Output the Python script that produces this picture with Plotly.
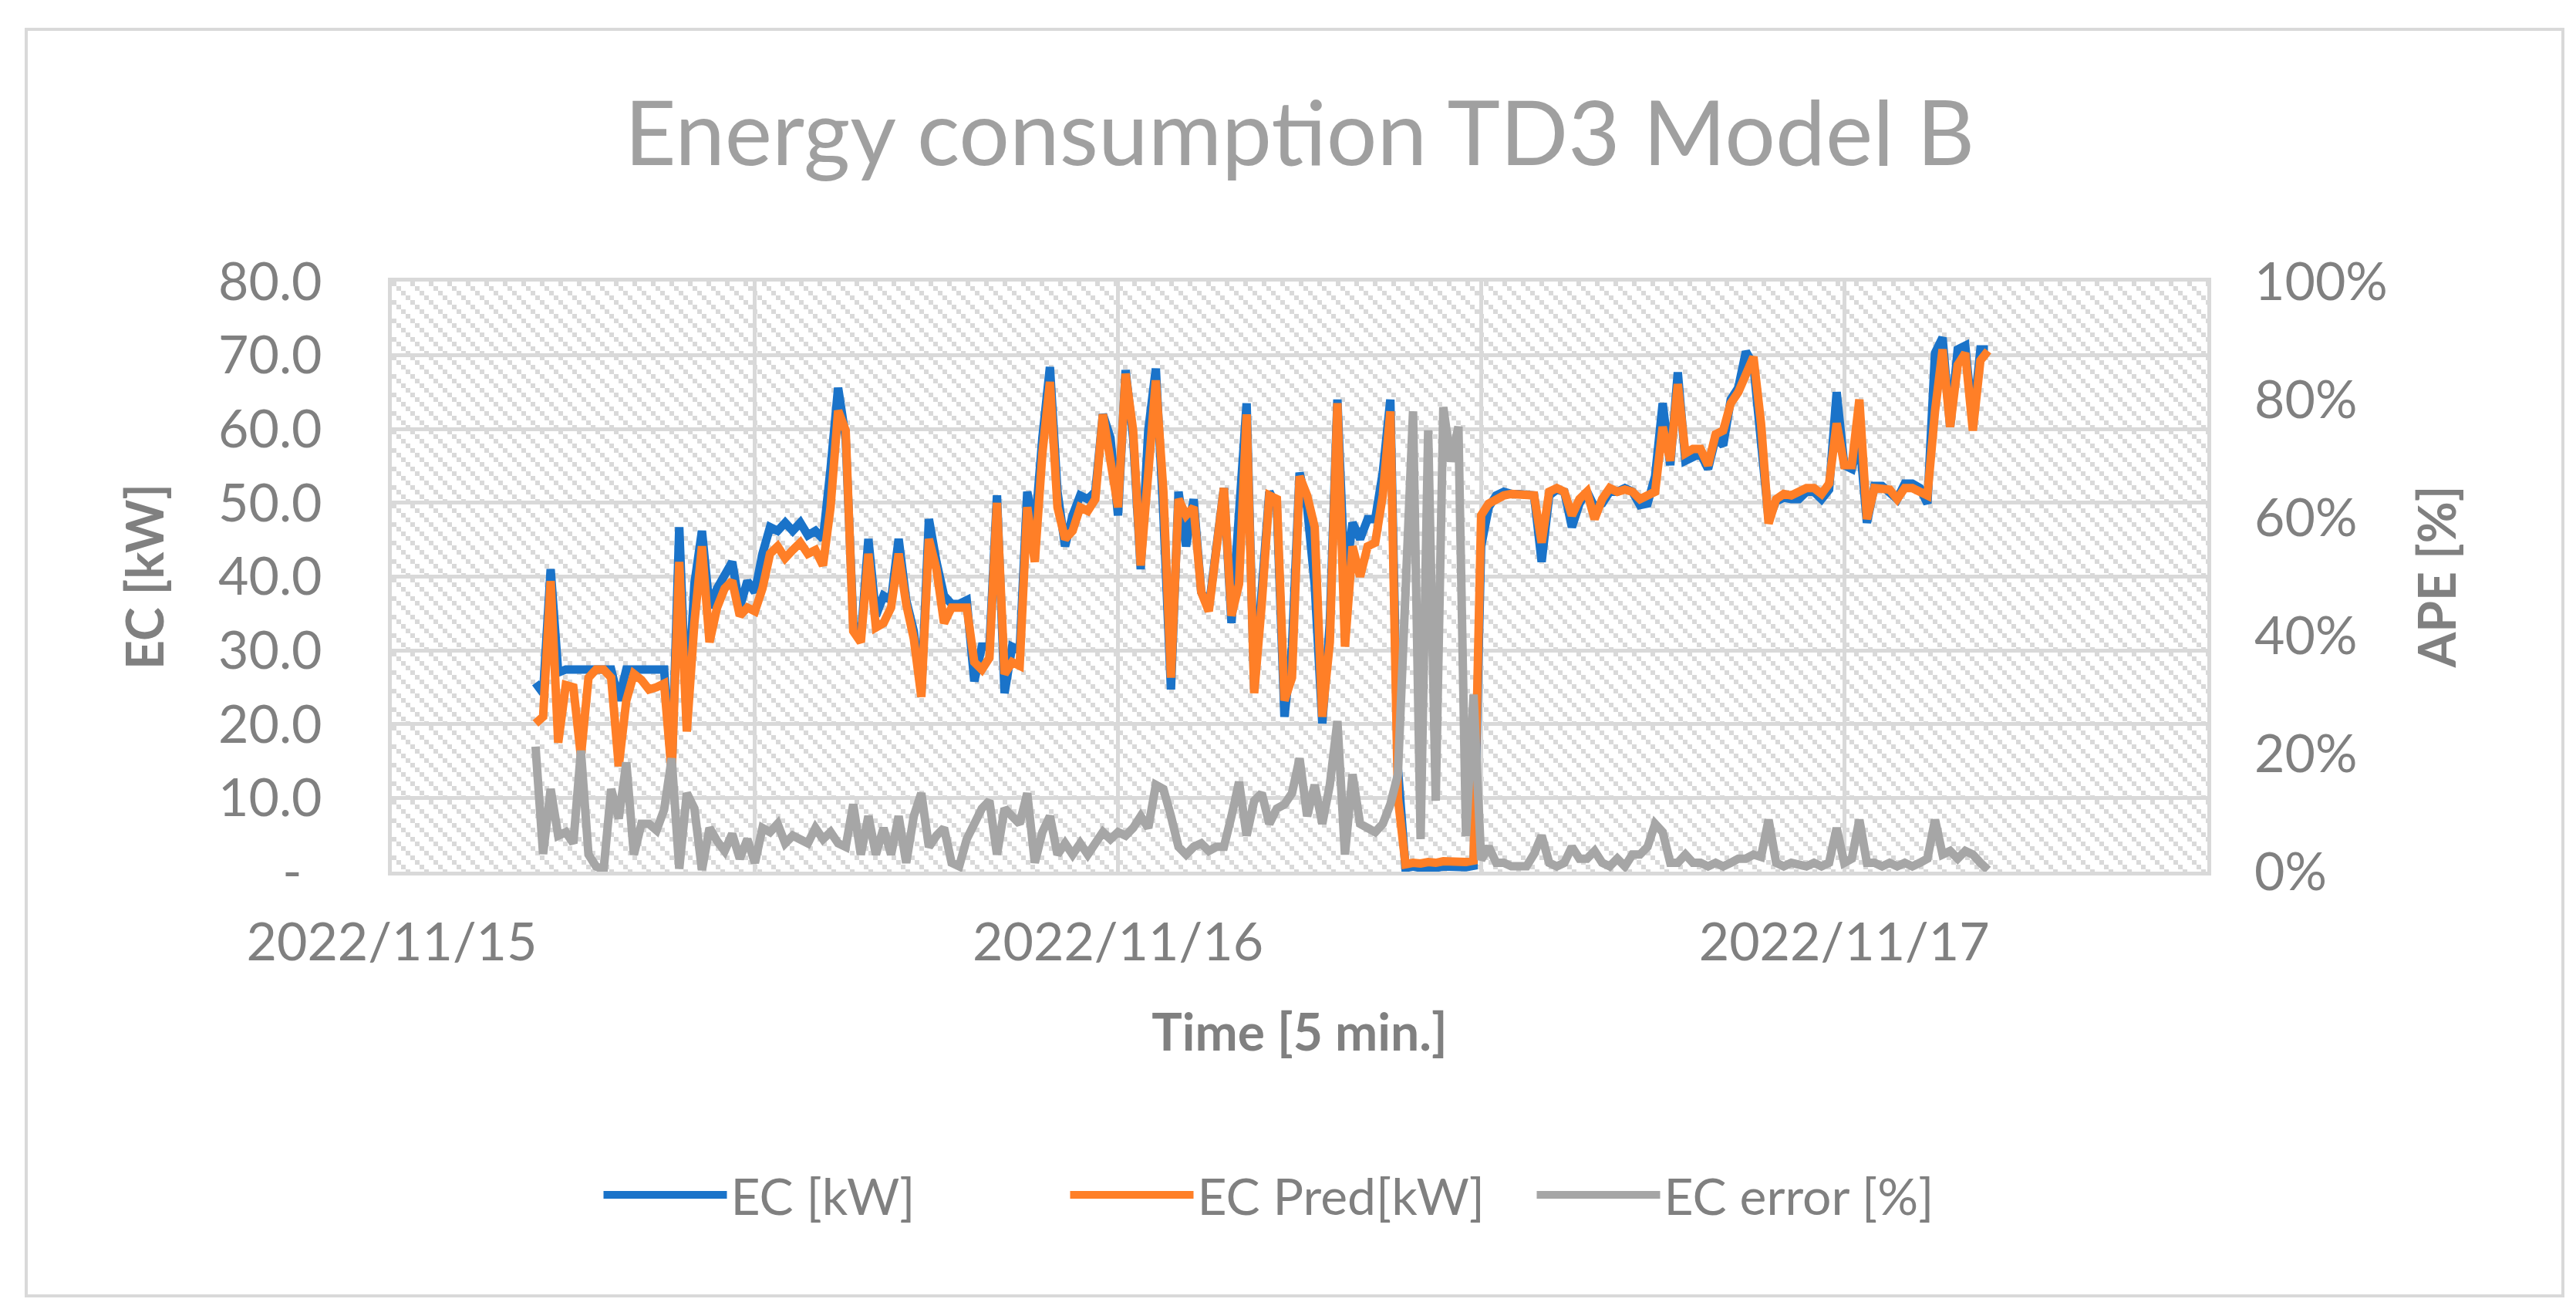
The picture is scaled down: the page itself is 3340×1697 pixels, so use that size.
import base64
import pandas as pd
import plotly.graph_objects as go

# time axis: 15 min steps (data runs ~04:45 on 11/15 to ~04:45 on 11/17)
start_time = "2022-11-15 04:45"
n_points = 193
times = pd.date_range(start_time, periods=n_points, freq="15min")

ec_kw = [
    25.6, 24.2, 41.0, 27.0, 27.4, 27.4, 27.4, 27.4, 27.4, 27.4,
    27.4, 23.2, 27.4, 27.4, 27.4, 27.4, 27.4, 27.4, 13.5, 46.7,
    20.1, 39.0, 46.2, 35.8, 38.4, 40.0, 42.0, 35.8, 39.4, 37.9,
    43.1, 46.7, 46.2, 47.3, 46.2, 47.3, 45.6, 46.2, 45.1, 54.6,
    65.6, 58.8, 33.7, 31.6, 45.1, 34.7, 37.4, 36.8, 45.1, 36.8,
    32.6, 24.2, 47.8, 42.0, 37.4, 36.3, 36.3, 36.8, 25.8, 30.5,
    30.5, 51.0, 24.2, 30.5, 30.0, 51.5, 46.2, 58.8, 68.4, 51.5,
    44.1, 48.3, 51.0, 50.5, 51.5, 62.0, 58.8, 48.3, 68.0, 58.8,
    41.0, 59.8, 68.2, 48.3, 24.7, 51.5, 44.1, 50.5, 37.9, 35.8,
    45.1, 52.0, 33.7, 49.4, 63.5, 24.7, 37.9, 51.5, 49.4, 21.0,
    30.5, 54.1, 49.4, 38.9, 20.1, 33.7, 64.0, 38.9, 47.3, 45.1,
    47.8, 47.8, 54.1, 64.0, 14.0, 0.5, 0.7, 0.5, 0.6, 0.5,
    0.7, 0.6, 0.7, 0.6, 0.8, 44.1, 49.4, 51.0, 51.5, 51.2,
    51.2, 51.2, 51.0, 42.0, 51.0, 51.8, 51.5, 46.7, 49.9, 51.5,
    49.4, 49.9, 51.5, 51.5, 52.0, 51.5, 49.7, 49.9, 53.6, 63.5,
    55.1, 67.7, 55.7, 56.2, 56.7, 54.6, 58.8, 57.8, 64.0, 65.6,
    70.5, 68.7, 58.8, 47.8, 50.2, 50.7, 50.5, 50.5, 51.5, 51.5,
    50.5, 51.8, 65.0, 55.1, 54.6, 58.8, 47.3, 52.3, 52.3, 51.5,
    50.5, 52.6, 52.6, 52.0, 49.9, 70.3, 72.4, 60.3, 70.8, 71.3,
    60.8, 70.8, 70.8,
]

ec_pred_kw = [
    20.1, 21.0, 39.4, 17.5, 25.3, 25.0, 15.6, 26.3, 27.4, 27.4,
    26.3, 14.3, 23.2, 26.8, 26.0, 24.7, 25.0, 25.5, 13.3, 42.0,
    19.0, 33.7, 44.1, 31.1, 35.8, 38.4, 39.4, 34.7, 35.8, 35.3,
    38.4, 43.1, 44.1, 42.5, 43.6, 44.6, 43.1, 43.6, 41.5, 49.4,
    62.5, 59.8, 32.6, 31.1, 43.1, 33.1, 33.7, 35.8, 43.1, 36.3,
    31.6, 23.7, 45.1, 41.0, 33.7, 35.8, 35.8, 35.8, 28.4, 27.4,
    29.0, 50.0, 26.8, 28.4, 27.9, 49.4, 42.0, 56.7, 66.4, 49.4,
    45.1, 46.2, 49.4, 48.9, 50.5, 62.0, 55.7, 49.4, 67.5, 59.8,
    41.5, 54.6, 66.6, 51.5, 26.3, 50.5, 48.3, 49.4, 37.9, 35.3,
    43.1, 52.0, 34.7, 39.0, 62.0, 24.2, 36.3, 51.0, 50.5, 23.2,
    26.3, 53.6, 51.0, 46.7, 21.0, 31.1, 63.5, 30.5, 44.1, 40.0,
    44.1, 44.6, 51.0, 62.4, 10.0, 1.0, 1.2, 1.1, 1.3, 1.2,
    1.4, 1.3, 1.4, 1.3, 1.5, 48.3, 49.9, 50.5, 51.0, 51.2,
    51.2, 51.2, 51.0, 44.6, 51.5, 52.0, 51.5, 48.3, 50.5, 51.5,
    47.8, 50.5, 52.0, 51.5, 51.8, 51.5, 50.5, 51.0, 51.5, 60.3,
    55.7, 66.1, 56.7, 57.3, 57.3, 55.1, 59.3, 59.8, 63.5, 65.0,
    67.5, 69.8, 60.8, 47.2, 50.5, 51.2, 51.0, 51.5, 52.0, 52.0,
    51.2, 52.6, 60.8, 55.1, 55.1, 64.0, 47.8, 52.0, 52.0, 51.8,
    50.5, 52.0, 52.0, 51.5, 51.0, 62.4, 70.8, 60.3, 68.7, 70.3,
    59.8, 69.3, 70.6,
]

ec_error_pct = [
    21.2, 3.0, 14.0, 6.1, 6.7, 4.8, 20.5, 2.9, 0.9, 0.3,
    14.0, 9.0, 18.5, 2.9, 8.1, 8.1, 7.0, 10.5, 19.2, 0.5,
    13.3, 10.7, 0.3, 7.4, 5.2, 3.5, 6.4, 2.2, 5.5, 1.5,
    7.4, 6.7, 8.1, 4.8, 6.1, 5.5, 4.8, 7.4, 5.5, 6.7,
    4.8, 4.2, 11.4, 2.9, 9.4, 2.9, 7.4, 2.9, 9.4, 1.5,
    9.4, 13.3, 4.2, 6.1, 7.4, 1.5, 0.9, 5.5, 8.1, 10.7,
    12.0, 2.9, 10.7, 9.4, 8.1, 13.3, 1.5, 6.7, 9.4, 2.9,
    4.8, 2.9, 4.8, 2.9, 4.8, 6.7, 5.5, 6.7, 6.1, 7.4,
    9.4, 7.4, 14.7, 14.0, 9.4, 4.2, 2.9, 4.2, 4.8, 3.5,
    4.2, 4.2, 9.4, 15.2, 6.1, 12.0, 13.3, 8.1, 10.7, 11.4,
    13.3, 19.2, 9.4, 14.7, 8.1, 14.7, 25.5, 2.9, 16.5, 8.1,
    7.4, 6.7, 8.1, 11.4, 16.5, 45.0, 78.0, 5.5, 74.8, 12.0,
    78.7, 69.5, 75.4, 6.0, 30.0, 2.0, 4.2, 1.5, 1.5, 0.9,
    0.9, 0.9, 3.0, 6.1, 1.5, 0.9, 1.5, 4.2, 2.2, 2.2,
    3.5, 1.5, 0.9, 2.2, 0.9, 2.9, 2.9, 4.2, 8.1, 6.7,
    1.5, 1.5, 2.9, 1.5, 1.5, 0.9, 1.5, 0.9, 1.5, 2.2,
    2.2, 2.9, 2.5, 8.8, 1.5, 0.9, 1.5, 1.2, 0.9, 1.5,
    0.9, 1.5, 7.4, 1.5, 2.2, 8.8, 1.5, 1.5, 0.9, 1.5,
    0.9, 1.5, 0.9, 1.5, 2.2, 8.8, 2.9, 3.5, 2.2, 3.5,
    2.9, 1.5, 0.3,
]

y_ticks = [0, 10, 20, 30, 40, 50, 60, 70, 80]
y_ticktext = ["-\u00a0\u2009", "10.0", "20.0", "30.0", "40.0",
              "50.0", "60.0", "70.0", "80.0"]

grey_text = "#808080"
grid = "#D9D9D9"
font = "Lato"

# plot area in pixels (matches the reference layout)
W, H = 3340, 1697
ml, mr, mt, mb = 500, 486, 357, 575
pw, ph = W - ml - mr, H - mt - mb

# diagonal hatch background for the plot area, as an svg image
hatch = (
    '<svg xmlns="http://www.w3.org/2000/svg" width="%d" height="%d">'
    '<defs><pattern id="h" width="24" height="24" patternUnits="userSpaceOnUse">'
    '<rect x="0" y="0" width="6" height="6" fill="#D9D9D9"/>'
    '<rect x="6" y="6" width="6" height="6" fill="#D9D9D9"/>'
    '<rect x="12" y="12" width="6" height="6" fill="#D9D9D9"/>'
    '<rect x="18" y="18" width="6" height="6" fill="#D9D9D9"/>'
    '</pattern></defs>'
    '<rect width="100%%" height="100%%" fill="white"/>'
    '<rect width="100%%" height="100%%" fill="url(#h)"/></svg>' % (pw, ph)
)
hatch_src = "data:image/svg+xml;base64," + base64.b64encode(hatch.encode()).decode()

lw = 11
fig = go.Figure()
fig.add_trace(go.Scatter(x=times, y=ec_kw, name="EC [kW]", mode="lines",
                         line=dict(color="#1A73C9", width=lw)))
fig.add_trace(go.Scatter(x=times, y=ec_pred_kw, name="EC Pred[kW]", mode="lines",
                         line=dict(color="#FF7F27", width=lw)))
fig.add_trace(go.Scatter(x=times, y=ec_error_pct, name="EC error [%]", mode="lines",
                         yaxis="y2", line=dict(color="#A6A6A6", width=lw)))

fig.update_layout(
    width=W, height=H,
    margin=dict(l=ml, r=mr, t=mt, b=mb),
    paper_bgcolor="white",
    plot_bgcolor="white",
    font=dict(family=font, color=grey_text, size=66),
    title=dict(text="Energy consumption TD3 Model B", x=0.5, xref="paper",
               xanchor="center", y=1 - 165 / H, yanchor="middle",
               font=dict(family=font, size=116, color="#A0A0A0")),
    xaxis=dict(
        type="date",
        range=["2022-11-15 00:00", "2022-11-17 12:00"],
        tick0="2022-11-15", dtick=86400000, tickformat="%Y/%m/%d",
        showgrid=True, gridcolor=grid, gridwidth=5,
        minor=dict(dtick=43200000, showgrid=True, gridcolor=grid, gridwidth=5),
        showline=True, linecolor=grid, linewidth=5, mirror=True,
        ticks="", ticklabelstandoff=28, zeroline=False,
        tickfont=dict(size=68, color=grey_text),
        title=dict(text="<b>Time [5 min.]</b>", standoff=60,
                   font=dict(size=66, color=grey_text)),
    ),
    yaxis=dict(
        range=[0, 80], tickvals=y_ticks, ticktext=y_ticktext,
        showgrid=True, gridcolor=grid, gridwidth=5,
        showline=True, linecolor=grid, linewidth=5, mirror=True,
        ticks="", ticklabelstandoff=72, zeroline=False,
        tickfont=dict(size=68, color=grey_text),
        title=dict(text="<b>EC [kW]</b>", standoff=50,
                   font=dict(size=66, color=grey_text)),
    ),
    yaxis2=dict(
        range=[0, 100], dtick=20, ticksuffix="%", overlaying="y", side="right",
        showgrid=False, zeroline=False, showline=False, ticks="",
        ticklabelstandoff=60,
        tickfont=dict(size=68, color=grey_text),
        title=dict(text="<b>APE [%]</b>", standoff=42,
                   font=dict(size=66, color=grey_text)),
    ),
    legend=dict(orientation="h", x=0.5, xanchor="center",
                y=-(1541 - (mt + ph)) / ph, yanchor="middle",
                font=dict(size=66, color=grey_text),
                itemwidth=160, entrywidth=430, entrywidthmode="pixels",
                bgcolor="rgba(0,0,0,0)"),
    showlegend=True,
    images=[dict(source=hatch_src, xref="paper", yref="paper", x=0, y=1,
                 sizex=1, sizey=1, xanchor="left", yanchor="top",
                 sizing="stretch", layer="below")],
    shapes=[dict(type="rect", xref="paper", yref="paper",
                 x0=(26 - ml) / pw, x1=(3315 - ml) / pw,
                 y0=-(1672 - (mt + ph)) / ph, y1=(mt + ph - 30) / ph,
                 line=dict(color=grid, width=4), fillcolor="rgba(0,0,0,0)",
                 layer="below")],
)

fig.write_html("out.html")
